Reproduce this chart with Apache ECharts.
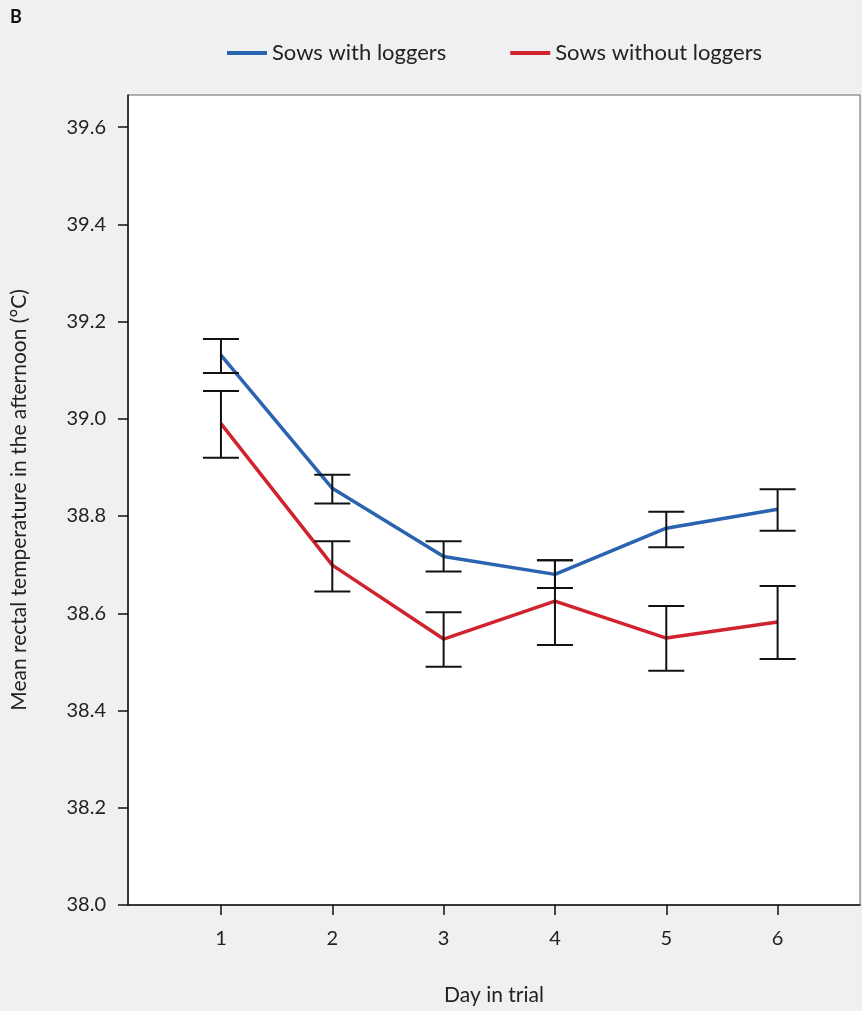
<!DOCTYPE html>
<html><head><meta charset="utf-8">
<script src="https://cdn.jsdelivr.net/npm/echarts@6/dist/echarts.min.js"></script>
<style>html,body{margin:0;padding:0;background:#eff0f2}#c{width:862px;height:1011px}</style>
</head><body><div id="c"></div>
<script>
const days = [1,2,3,4,5,6];
const withMean = [39.131,38.857,38.717,38.680,38.775,38.814];
const withLow  = [39.094,38.826,38.686,38.652,38.736,38.770];
const withHigh = [39.164,38.885,38.748,38.709,38.809,38.855];
const woMean = [38.990,38.699,38.547,38.625,38.549,38.582];
const woLow  = [38.920,38.645,38.490,38.535,38.482,38.506];
const woHigh = [39.057,38.748,38.602,38.709,38.615,38.656];
const yTicks = [38.0,38.2,38.4,38.6,38.8,39.0,39.2,39.4,39.6];

function errSeries(low, high){
  return {type:'custom', silent:true, z:5,
    data: days.map((d,i)=>[d,low[i],high[i]]),
    renderItem:(p,api)=>{
      const a=api.coord([api.value(0),api.value(1)]), b=api.coord([api.value(0),api.value(2)]);
      const w=18, st={stroke:'#111',lineWidth:2};
      return {type:'group',children:[
        {type:'line',shape:{x1:a[0],y1:a[1],x2:b[0],y2:b[1]},style:st},
        {type:'line',shape:{x1:a[0]-w,y1:a[1],x2:a[0]+w,y2:a[1]},style:st},
        {type:'line',shape:{x1:b[0]-w,y1:b[1],x2:b[0]+w,y2:b[1]},style:st}]};
    }};
}
const font='Lato';
const chart = echarts.init(document.getElementById('c'));
chart.setOption({
  backgroundColor:'#eff0f2',
  textStyle:{fontFamily:font},
  animation:false,
  graphic:[{type:'text',left:10,top:8,style:{text:'B',font:'bold 18px Lato',fill:'#111'}}],
  legend:{top:37,left:222,itemWidth:40,itemHeight:4,itemGap:64,
    textStyle:{fontSize:22,color:'#222',fontFamily:font},
    data:[{name:'Sows with loggers',icon:'rect'},{name:'Sows without loggers',icon:'rect'}]},
  grid:{left:128,right:2,top:95,bottom:103,show:true,backgroundColor:'#fff',borderColor:'#666',borderWidth:1},
  xAxis:{type:'value',min:0.165,max:6.74,name:'Day in trial',nameLocation:'middle',nameGap:80,
    nameTextStyle:{fontSize:21,color:'#222'},
    axisLine:{show:true,onZero:false,lineStyle:{color:'#111',width:1.5}},
    axisTick:{show:true,length:10,customValues:days,lineStyle:{color:'#111',width:1.5}},
    axisLabel:{customValues:days,fontSize:20,color:'#222',margin:24},
    splitLine:{show:false}},
  yAxis:{type:'value',min:38.0,max:39.666,name:'Mean rectal temperature in the afternoon (°C)',
    nameLocation:'middle',nameGap:98,nameTextStyle:{fontSize:21,color:'#222'},
    axisLine:{show:true,lineStyle:{color:'#111',width:1.5}},
    axisTick:{show:true,length:10,customValues:yTicks,lineStyle:{color:'#111',width:1.5}},
    axisLabel:{customValues:yTicks,fontSize:20,color:'#222',margin:22,formatter:v=>v.toFixed(1)},
    splitLine:{show:false}},
  series:[
    {name:'Sows with loggers',type:'line',data:days.map((d,i)=>[d,withMean[i]]),symbol:'none',
      lineStyle:{color:'#2a63b0',width:3.5},itemStyle:{color:'#2a63b0'},z:3},
    {name:'Sows without loggers',type:'line',data:days.map((d,i)=>[d,woMean[i]]),symbol:'none',
      lineStyle:{color:'#d0232e',width:3.5},itemStyle:{color:'#d0232e'},z:3},
    errSeries(withLow,withHigh), errSeries(woLow,woHigh)
  ]
});
</script></body></html>
